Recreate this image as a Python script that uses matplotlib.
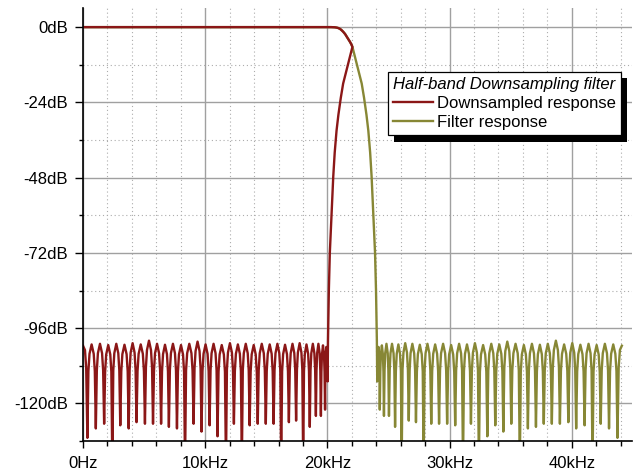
import numpy as np
import matplotlib
matplotlib.use("Agg")
import matplotlib.pyplot as plt
from matplotlib.ticker import MultipleLocator, FuncFormatter
from matplotlib.patches import Rectangle
from matplotlib.transforms import IdentityTransform

plt.rcParams["font.family"] = ["Liberation Sans", "DejaVu Sans"]
plt.rcParams["font.size"] = 12

# filter response (kHz / dB)
# passband + transition band
edge_khz = [0.0, 20.3, 20.6, 20.76, 20.9, 21.05, 21.17, 21.3, 21.45, 21.58,
            21.72, 21.85, 21.95, 22.05, 22.2, 22.4, 22.6, 22.81, 23.0, 23.2,
            23.35, 23.5, 23.62, 23.76, 23.9, 23.98, 24.05]
edge_db = [0.0, 0.0, -0.05, -0.15, -0.3, -0.6, -1.0, -1.5, -2.2, -3.0,
           -3.8, -4.7, -5.4, -6.3, -8.6, -11.6, -14.8, -18.0, -22.5, -28.0,
           -33.0, -40.0, -47.7, -60.0, -72.0, -84.0, -100.0]

# stopband: nulls between the ripple lobes
null_khz = [24.08, 24.29, 24.63, 25.04, 25.54, 26.08, 26.66, 27.25, 27.88,
            28.50, 29.14, 29.80, 30.46, 31.10, 31.75, 32.40, 33.09, 33.74,
            34.40, 35.05, 35.75, 36.41, 37.07, 37.71, 38.37, 39.03, 39.72,
            40.36, 41.05, 41.70, 42.37, 43.05, 43.74]
null_db = [-113, -122, -124, -124, -127.5, -140, -125.5, -126, -140,
           -126.5, -126.5, -126.5, -127, -140, -126.5, -140, -130.5, -127,
           -129, -126.5, -140, -128, -127.5, -126.5, -126.5, -126.5, -126,
           -128, -127, -140, -126.5, -128, -131]
# lobe tops between consecutive nulls
peak_db = [-102.0, -101.5, -101.0, -101.0, -101.2, -100.8, -101.0, -101.3,
           -101.0, -101.2, -101.0, -101.4, -101.0, -101.2, -100.8, -101.4,
           -101.0, -101.2, -100.3, -101.0, -101.4, -101.0, -101.3, -101.0,
           -100.0, -101.2, -100.8, -101.3, -101.0, -101.4, -101.0, -101.2]
# rounded lobe outline (position inside lobe, dB below lobe top)
lobe_pos = [0.12, 0.25, 0.5, 0.75, 0.88]
lobe_drop = [-8.5, -3.0, 0.0, -3.0, -8.5]
# last half lobe up to 44.1 kHz
tail_khz = [43.84, 43.94, 44.1]
tail_db = [-108.5, -103.0, -101.6]

fs_half = 44.1

f_pts = list(edge_khz)
db_pts = list(edge_db)
for i in range(len(peak_db)):
    a, b = null_khz[i], null_khz[i + 1]
    f_pts.append(a)
    db_pts.append(null_db[i])
    for p, d in zip(lobe_pos, lobe_drop):
        f_pts.append(a + p * (b - a))
        db_pts.append(peak_db[i] + d)
f_pts.append(null_khz[-1])
db_pts.append(null_db[-1])
f_pts += tail_khz
db_pts += tail_db

f = np.array(f_pts)
h = np.array(db_pts)
# downsampled: everything above fs/4 folds back around 22.05 kHz
f_down = np.where(f <= fs_half / 2, f, fs_half - f)

fig = plt.figure(figsize=(6.38, 4.72), dpi=100)
ax = fig.add_axes([83 / 638, 31 / 472, 549 / 638, 433 / 472])

l2, = ax.plot(f * 1000, h, color="#878735", lw=1.7, zorder=3,
              label="Filter response")
l1, = ax.plot(f_down * 1000, h, color="#8b1717", lw=1.7, zorder=4,
              label="Downsampled response")

ax.set_xlim(0, 44930)
ax.set_ylim(-132, 6.1)

ax.xaxis.set_major_locator(MultipleLocator(10000))
ax.xaxis.set_minor_locator(MultipleLocator(2000))
ax.yaxis.set_major_locator(MultipleLocator(24))
ax.yaxis.set_minor_locator(MultipleLocator(12))
ax.xaxis.set_major_formatter(FuncFormatter(
    lambda v, p: "0Hz" if v == 0 else "%dkHz" % round(v / 1000)))
ax.yaxis.set_major_formatter(FuncFormatter(lambda v, p: "%ddB" % round(v)))

ax.grid(which="major", color="#a0a0a0", lw=1.0, ls="-", zorder=1)
ax.grid(which="minor", color="#acacac", lw=0.8, ls=(0, (1, 2.5)), zorder=1)
ax.set_axisbelow(True)

for s in ["top", "right"]:
    ax.spines[s].set_visible(False)
for s in ["left", "bottom"]:
    ax.spines[s].set_linewidth(1.2)
    ax.spines[s].set_zorder(5)

ax.tick_params(axis="y", which="major", length=6, width=1, pad=4.8)
ax.tick_params(axis="y", which="minor", length=3.1, width=1)
ax.tick_params(axis="x", which="major", length=4.8, width=1, pad=6)
ax.tick_params(axis="x", which="minor", length=3.8, width=1)

leg = ax.legend(handles=[l1, l2], title="Half-band Downsampling filter",
                loc="upper right", bbox_to_anchor=(0.9794, 0.8529),
                borderaxespad=0, fancybox=False, framealpha=1,
                edgecolor="black", borderpad=0.3, labelspacing=0.25,
                handlelength=2.4, handletextpad=0.25,
                alignment="left", fontsize=12,
                title_fontproperties={"style": "italic", "size": 12})
leg.get_frame().set_linewidth(0.9)
leg.set_zorder(10)

# solid black drop shadow behind the legend box
fig.canvas.draw()
bb = leg.get_frame().get_window_extent()
shadow = Rectangle((bb.x0 + 6.7, bb.y0 - 6.7), bb.width, bb.height,
                   transform=IdentityTransform(), facecolor="black",
                   edgecolor="none", zorder=9, clip_on=False)
ax.add_artist(shadow)

fig.savefig("out.png", dpi=100)
